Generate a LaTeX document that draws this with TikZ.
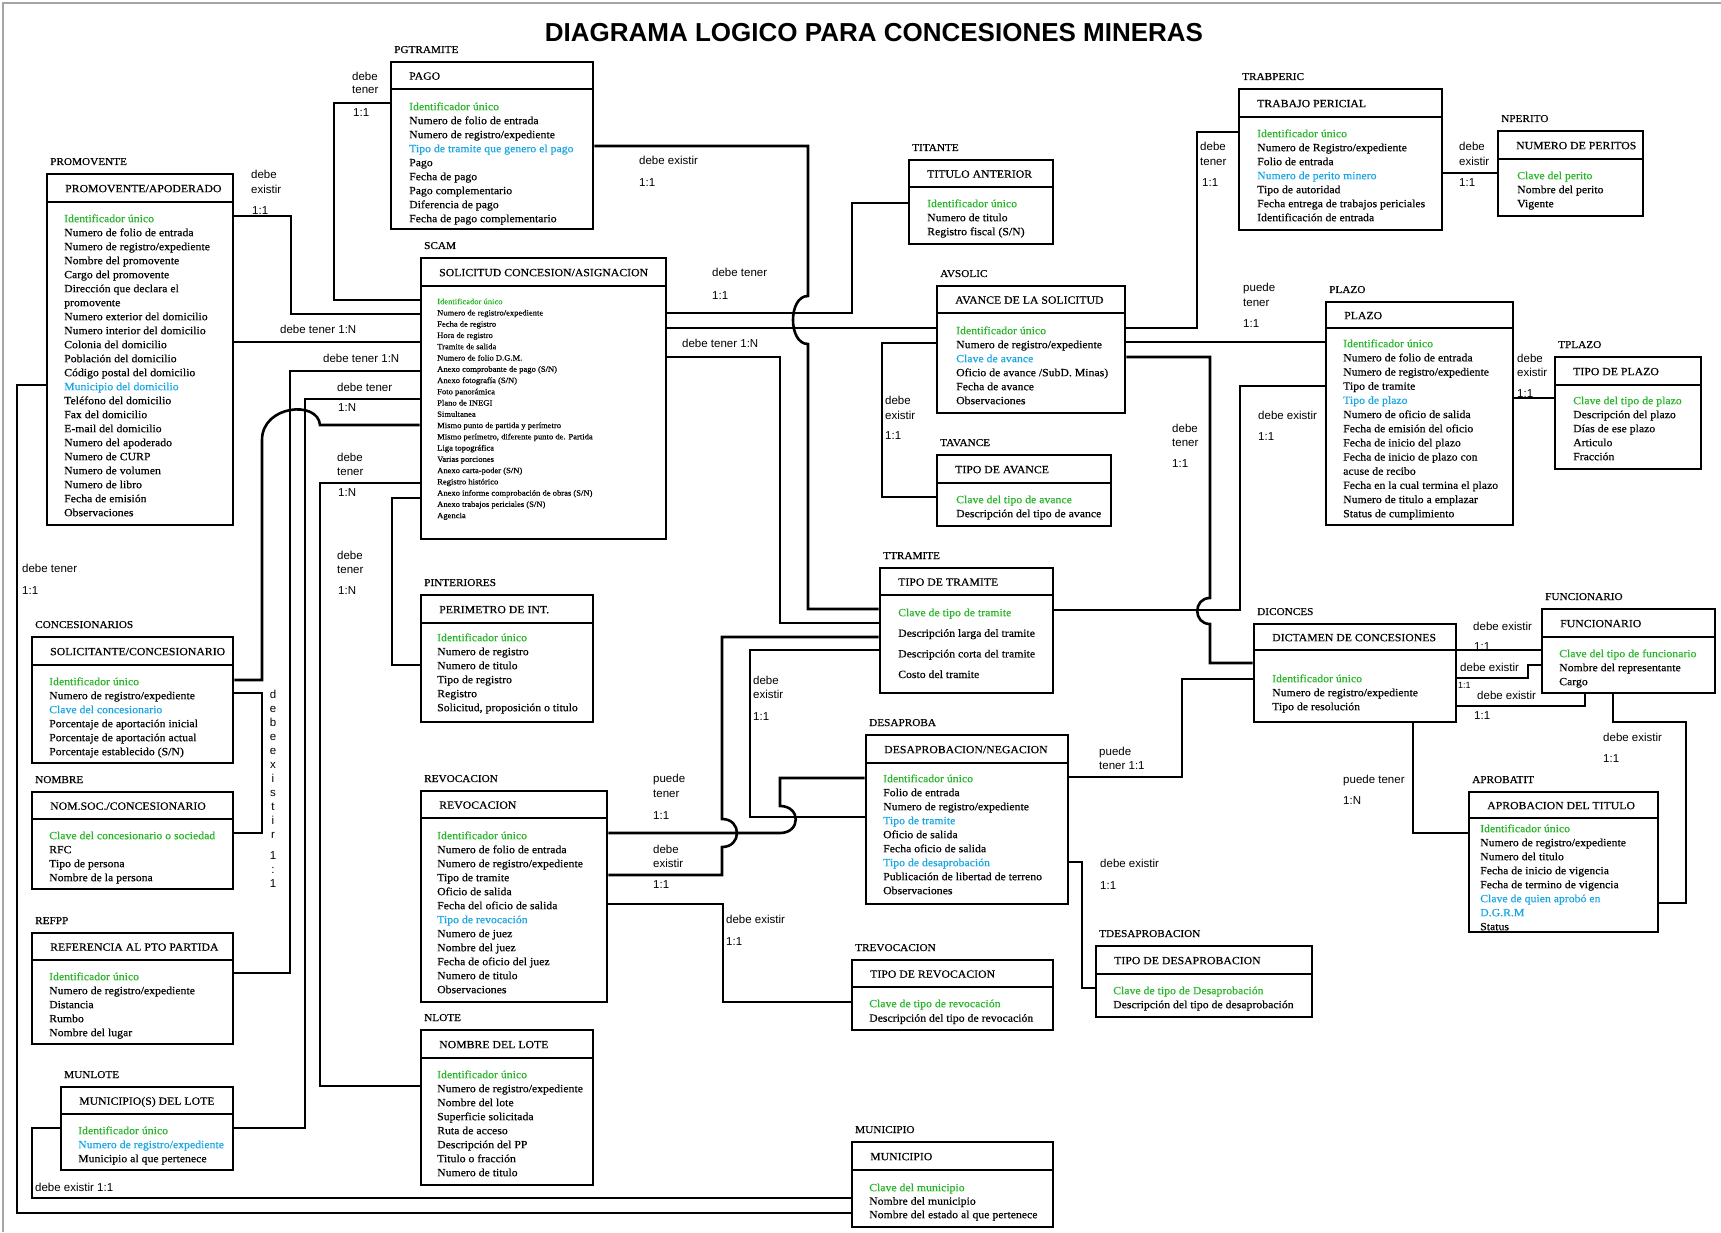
\documentclass[tikz,border=0pt]{standalone}
\usepackage{fontspec}
\setmainfont{Liberation Serif}[FakeStretch=1.07,FakeBold=0.5]
\newfontfamily\lsans{Liberation Sans}
\usetikzlibrary{fit}
\definecolor{idgreen}{RGB}{40,180,40}
\definecolor{fkblue}{RGB}{25,165,225}
\newcommand\gk[1]{\textcolor{idgreen}{#1}}
\newcommand\fk[1]{\textcolor{fkblue}{#1}}
\newcommand\fl{\rule{0pt}{10pt}}

\tikzset{
  ebox/.style={draw, line width=2.6pt, inner sep=0pt, rectangle},
  hline/.style={line width=2.6pt},
  conn/.style={line width=2.6pt, line join=miter},
  htext/.style={font=\fontsize{11}{14}\selectfont, inner sep=0pt, anchor=base west},
  elabel/.style={font=\fontsize{10.5}{13}\selectfont, inner sep=0pt, anchor=base west},
  ctext/.style={font=\fontsize{11}{14}\selectfont, inner sep=0pt, anchor=north west, align=left},
  lbl/.style={font=\lsans\fontsize{11.5}{14}\selectfont, inner sep=0pt, anchor=base west},
}

% entity: name, x1, y1, x2, y2, header-line y, table name, title
\newcommand\ent[8]{%
  \node[ebox, fit={(#2,#3) (#4,#5)}] (#1) {};
  \draw[hline] (#2,#6) -- (#4,#6);
  \node[htext] (#1-h) at ({#2+18},{(#3+#6)/2+4.2}) {#8};
  \node[elabel] (#1-l) at ({#2+3},{#3-9}) {#7};
}

\begin{document}
\begin{tikzpicture}[x=1pt,y=-1pt]
\useasboundingbox (0,0) rectangle (1721,1233);
\draw[gray!70, line width=1.2pt] (3,1232) -- (3,3) -- (1721,3);

\node[font=\lsans\bfseries\fontsize{26}{30}\selectfont, inner sep=0pt, anchor=base] (title) at (874,42) {DIAGRAMA LOGICO PARA CONCESIONES MINERAS};

% ---------- entities ----------
\ent{pago}{391}{62}{593}{229}{89}{PGTRAMITE}{PAGO}
\ent{prom}{47}{174}{233}{525}{202}{PROMOVENTE}{PROMOVENTE/APODERADO}
\ent{scam}{421}{258}{666}{539}{286}{SCAM}{SOLICITUD CONCESION/ASIGNACION}
\ent{titante}{909}{160}{1053}{244}{187}{TITANTE}{TITULO ANTERIOR}
\ent{avsolic}{937}{286}{1125}{413}{313}{AVSOLIC}{AVANCE DE LA SOLICITUD}
\ent{tavance}{937}{455}{1111}{526}{483}{TAVANCE}{TIPO DE AVANCE}
\ent{trabperic}{1239}{89}{1442}{230}{117}{TRABPERIC}{TRABAJO PERICIAL}
\ent{nperito}{1498}{131}{1643}{216}{159}{NPERITO}{NUMERO DE PERITOS}
\ent{plazo}{1326}{302}{1513}{525}{328}{PLAZO}{PLAZO}
\ent{tplazo}{1555}{357}{1701}{469}{385}{TPLAZO}{TIPO DE PLAZO}
\ent{solic}{32}{637}{233}{763}{665}{CONCESIONARIOS}{SOLICITANTE/CONCESIONARIO}
\ent{nomsoc}{32}{792}{233}{889}{819}{NOMBRE}{NOM.SOC./CONCESIONARIO}
\ent{refpp}{32}{933}{233}{1044}{960}{REFPP}{REFERENCIA AL PTO PARTIDA}
\ent{munlote}{61}{1087}{233}{1170}{1114}{MUNLOTE}{MUNICIPIO(S) DEL LOTE}
\ent{pint}{421}{595}{593}{722}{623}{PINTERIORES}{PERIMETRO DE INT.}
\ent{revoc}{421}{791}{607}{1002}{818}{REVOCACION}{REVOCACION}
\ent{nlote}{421}{1030}{593}{1185}{1058}{NLOTE}{NOMBRE DEL LOTE}
\ent{ttramite}{880}{568}{1053}{693}{595}{TTRAMITE}{TIPO DE TRAMITE}
\ent{desap}{866}{735}{1068}{904}{763}{DESAPROBA}{DESAPROBACION/NEGACION}
\ent{tdesap}{1096}{946}{1312}{1017}{974}{TDESAPROBACION}{TIPO DE DESAPROBACION}
\ent{trevoc}{852}{960}{1053}{1030}{987}{TREVOCACION}{TIPO DE REVOCACION}
\ent{munic}{852}{1142}{1053}{1227}{1170}{MUNICIPIO}{MUNICIPIO}
\ent{dict}{1254}{624}{1456}{722}{650}{DICONCES}{DICTAMEN DE CONCESIONES}
\ent{func}{1542}{609}{1715}{693}{637}{FUNCIONARIO}{FUNCIONARIO}
\ent{aprob}{1469}{792}{1658}{932}{818}{APROBATIT}{APROBACION DEL TITULO}

% ---------- attributes ----------
\node[ctext] (pago-c) at (409,100) {\fl\gk{Identificador único}\\Numero de folio de entrada\\Numero de registro/expediente\\\fk{Tipo de tramite que genero el pago}\\Pago\\Fecha de pago\\Pago complementario\\Diferencia de pago\\Fecha de pago complementario};
\node[ctext] (prom-c) at (64,212) {\fl\gk{Identificador único}\\Numero de folio de entrada\\Numero de registro/expediente\\Nombre del promovente\\Cargo del promovente\\Dirección que declara el\\promovente\\Numero exterior del domicilio\\Numero interior del domicilio\\Colonia del domicilio\\Población del domicilio\\Código postal del domicilio\\\fk{Municipio del domicilio}\\Teléfono del domicilio\\Fax del domicilio\\E-mail del domicilio\\Numero del apoderado\\Numero de CURP\\Numero de volumen\\Numero de libro\\Fecha de emisión\\Observaciones};
\node[ctext, font=\fontsize{8}{11.26}\selectfont] (scam-c) at (437,294) {\fl\gk{Identificador único}\\Numero de registro/expediente\\Fecha de registro\\Hora de registro\\Tramite de salida\\Numero de folio D.G.M.\\Anexo comprobante de pago (S/N)\\Anexo fotografía (S/N)\\Foto panorámica\\Plano de INEGI\\Simultanea\\Mismo punto de partida y perímetro\\Mismo perímetro, diferente punto de. Partida\\Liga topográfica\\Varias porciones\\Anexo carta-poder (S/N)\\Registro histórico\\Anexo informe comprobación de obras (S/N)\\Anexo trabajos periciales (S/N)\\Agencia};
\node[ctext] (titante-c) at (927,197) {\fl\gk{Identificador único}\\Numero de titulo\\Registro fiscal (S/N)};
\node[ctext] (avsolic-c) at (956,324) {\fl\gk{Identificador único}\\Numero de registro/expediente\\\fk{Clave de avance}\\Oficio de avance /SubD. Minas)\\Fecha de avance\\Observaciones};
\node[ctext] (tavance-c) at (956,493) {\fl\gk{Clave del tipo de avance}\\Descripción del tipo de avance};
\node[ctext] (trabperic-c) at (1257,127) {\fl\gk{Identificador único}\\Numero de Registro/expediente\\Folio de entrada\\\fk{Numero de perito minero}\\Tipo de autoridad\\Fecha entrega de trabajos periciales\\Identificación de entrada};
\node[ctext] (nperito-c) at (1517,169) {\fl\gk{Clave del perito}\\Nombre del perito\\Vigente};
\node[ctext, font=\fontsize{11}{14.17}\selectfont] (plazo-c) at (1343,337) {\fl\gk{Identificador único}\\Numero de folio de entrada\\Numero de registro/expediente\\Tipo de tramite\\\fk{Tipo de plazo}\\Numero de oficio de salida\\Fecha de emisión del oficio\\Fecha de inicio del plazo\\Fecha de inicio de plazo con\\acuse de recibo\\Fecha en la cual termina el plazo\\Numero de titulo a emplazar\\Status de cumplimiento};
\node[ctext] (tplazo-c) at (1573,394) {\fl\gk{Clave del tipo de plazo}\\Descripción del plazo\\Días de ese plazo\\Articulo\\Fracción};
\node[ctext] (solic-c) at (49,675) {\fl\gk{Identificador único}\\Numero de registro/expediente\\\fk{Clave del concesionario}\\Porcentaje de aportación inicial\\Porcentaje de aportación actual\\Porcentaje establecido (S/N)};
\node[ctext] (nomsoc-c) at (49,829) {\fl\gk{Clave del concesionario o sociedad}\\RFC\\Tipo de persona\\Nombre de la persona};
\node[ctext] (refpp-c) at (49,970) {\fl\gk{Identificador único}\\Numero de registro/expediente\\Distancia\\Rumbo\\Nombre del lugar};
\node[ctext] (munlote-c) at (78,1124) {\fl\gk{Identificador único}\\\fk{Numero de registro/expediente}\\Municipio al que pertenece};
\node[ctext] (pint-c) at (437,631) {\fl\gk{Identificador único}\\Numero de registro\\Numero de titulo\\Tipo de registro\\Registro\\Solicitud, proposición o titulo};
\node[ctext] (revoc-c) at (437,829) {\fl\gk{Identificador único}\\Numero de folio de entrada\\Numero de registro/expediente\\Tipo de tramite\\Oficio de salida\\Fecha del oficio de salida\\\fk{Tipo de revocación}\\Numero de juez\\Nombre del juez\\Fecha de oficio del juez\\Numero de titulo\\Observaciones};
\node[ctext] (nlote-c) at (437,1068) {\fl\gk{Identificador único}\\Numero de registro/expediente\\Nombre del lote\\Superficie solicitada\\Ruta de acceso\\Descripción del PP\\Titulo o fracción\\Numero de titulo};
\node[ctext, font=\fontsize{11}{20.6}\selectfont] (ttramite-c) at (898,606) {\fl\gk{Clave de tipo de tramite}\\Descripción larga del tramite\\Descripción corta del tramite\\Costo del tramite};
\node[ctext] (desap-c) at (883,772) {\fl\gk{Identificador único}\\Folio de entrada\\Numero de registro/expediente\\\fk{Tipo de tramite}\\Oficio de salida\\Fecha oficio de salida\\\fk{Tipo de desaprobación}\\Publicación de libertad de terreno\\Observaciones};
\node[ctext] (tdesap-c) at (1113,984) {\fl\gk{Clave de tipo de Desaprobación}\\Descripción del tipo de desaprobación};
\node[ctext, font=\fontsize{11}{14.5}\selectfont] (trevoc-c) at (869,997) {\fl\gk{Clave de tipo de revocación}\\Descripción del tipo de revocación};
\node[ctext, font=\fontsize{11}{13.5}\selectfont] (munic-c) at (869,1181) {\fl\gk{Clave del municipio}\\Nombre del municipio\\Nombre del estado al que pertenece};
\node[ctext] (dict-c) at (1272,672) {\fl\gk{Identificador único}\\Numero de registro/expediente\\Tipo de resolución};
\node[ctext] (func-c) at (1559,647) {\fl\gk{Clave del tipo de funcionario}\\Nombre del representante\\Cargo};
\node[ctext] (aprob-c) at (1480,822) {\fl\gk{Identificador único}\\Numero de registro/expediente\\Numero del titulo\\Fecha de inicio de vigencia\\Fecha de termino de vigencia\\\fk{Clave de quien aprobó en}\\\fk{D.G.R.M}\\Status};

% ---------- relationships ----------
\draw[conn] (pago.west |- 0,103) -- (334,103) -- (334,300) -- (scam.west |- 0,300);
\draw[conn] (prom.east |- 0,216) -- (291,216) -- (291,314) -- (scam.west |- 0,314);
\draw[conn] (prom.east |- 0,342) -- (scam.west |- 0,342);
\draw[conn] (refpp.east |- 0,973) -- (290,973) -- (290,371) -- (scam.west |- 0,371);
\draw[conn] (munlote.east |- 0,1128) -- (305,1128) -- (305,399) -- (scam.west |- 0,399);
\draw[conn] (solic.east |- 0,680) -- (262,680) -- (262,440) .. controls (262,405) and (318,400) .. (320,425) -- (scam.west |- 0,425);
\draw[conn] (nlote.west |- 0,1086) -- (320,1086) -- (320,483) -- (scam.west |- 0,483);
\draw[conn] (pint.west |- 0,665) -- (392,665) -- (392,498) -- (scam.west |- 0,498);
\draw[conn] (solic.east |- 0,693) -- (262,693) -- (262,833) -- (nomsoc.east |- 0,833);
\draw[conn] (prom.west |- 0,385) -- (17,385) -- (17,1213) -- (munic.west |- 0,1213);
\draw[conn] (munlote.west |- 0,1128) -- (32,1128) -- (32,1198) -- (munic.west |- 0,1198);
\draw[conn] (pago.east |- 0,146) -- (808,146) -- (808,296) .. controls (788,296) and (788,344) .. (808,344) -- (808,609) -- (ttramite.west |- 0,609);
\draw[conn] (scam.east |- 0,313) -- (852,313) -- (852,203) -- (titante.west |- 0,203);
\draw[conn] (scam.east |- 0,328) -- (avsolic.west |- 0,328);
\draw[conn] (scam.east |- 0,357) -- (780,357) -- (780,623) -- (ttramite.west |- 0,623);
\draw[conn] (avsolic.east |- 0,328) -- (1197,328) -- (1197,132) -- (trabperic.west |- 0,132);
\draw[conn] (avsolic.east |- 0,342) -- (plazo.west |- 0,342);
\draw[conn] (avsolic.east |- 0,357) -- (1210,357) -- (1210,598) .. controls (1193,598) and (1193,624) .. (1210,624) -- (1210,663) -- (dict.west |- 0,663);
\draw[conn] (plazo.west |- 0,386) -- (1240,386) -- (1240,610) -- (ttramite.east |- 0,610);
\draw[conn] (plazo.east |- 0,398) -- (tplazo.west |- 0,398);
\draw[conn] (trabperic.east |- 0,173) -- (nperito.west |- 0,173);
\draw[conn] (avsolic.west |- 0,343) -- (882,343) -- (882,497) -- (tavance.west |- 0,497);
\draw[conn] (desap.west |- 0,817) -- (750,817) -- (750,650) -- (ttramite.west |- 0,650);
\draw[conn] (revoc.east |- 0,875) -- (722,875) -- (722,847) .. controls (742,847) and (742,819) .. (722,819) -- (722,637) -- (ttramite.west |- 0,637);
\draw[conn] (desap.west |- 0,778) -- (780,778) -- (780,806) .. controls (801,806) and (801,833) .. (780,833) -- (revoc.east |- 0,833);
\draw[conn] (revoc.east |- 0,904) -- (723,904) -- (723,1002) -- (trevoc.west |- 0,1002);
\draw[conn] (desap.east |- 0,777) -- (1182,777) -- (1182,679) -- (dict.west |- 0,679);
\draw[conn] (desap.east |- 0,862) -- (1082,862) -- (1082,988) -- (tdesap.west |- 0,988);
\draw[conn] (dict.east |- 0,650) -- (func.west |- 0,650);
\draw[conn] (dict.east |- 0,678) -- (1528,678) -- (1528,665) -- (func.west |- 0,665);
\draw[conn] (dict.east |- 0,706) -- (1585,706) -- (func.south -| 1585,0);
\draw[conn] (func.south -| 1613,0) -- (1613,722) -- (1686,722) -- (1686,903) -- (aprob.east |- 0,903);
\draw[conn] (dict.south -| 1413,0) -- (1413,833) -- (aprob.west |- 0,833);

% ---------- relationship labels ----------
\node[lbl] (l1a) at (352,81) {debe};
\node[lbl] (l1b) at (352,94) {tener};
\node[lbl] (l1c) at (353,117) {1:1};
\node[lbl] (l2a) at (251,179) {debe};
\node[lbl] (l2b) at (251,194) {existir};
\node[lbl] (l2c) at (252,215) {1:1};
\node[lbl] (l3) at (280,334) {debe tener 1:N};
\node[lbl] (l4) at (323,362) {debe tener 1:N};
\node[lbl] (l5a) at (337,391) {debe tener};
\node[lbl] (l5b) at (338,411) {1:N};
\node[lbl] (l7a) at (337,461) {debe};
\node[lbl] (l7b) at (337,475) {tener};
\node[lbl] (l7c) at (338,496) {1:N};
\node[lbl] (l8a) at (337,559) {debe};
\node[lbl] (l8b) at (337,573) {tener};
\node[lbl] (l8c) at (338,594) {1:N};
\node[lbl, anchor=north, align=center] (l9) at (273,690) {d\\e\\b\\e\\e\\x\\i\\s\\t\\i\\r\\[7pt]1\\:\\1};
\node[lbl] (l10a) at (22,572) {debe tener};
\node[lbl] (l10b) at (22,594) {1:1};
\node[lbl] (l11) at (35,1191) {debe existir 1:1};
\node[lbl] (l12a) at (639,165) {debe existir};
\node[lbl] (l12b) at (639,187) {1:1};
\node[lbl] (l13a) at (712,277) {debe tener};
\node[lbl] (l13b) at (712,299) {1:1};
\node[lbl] (l15) at (682,347) {debe tener 1:N};
\node[lbl] (l16a) at (1200,151) {debe};
\node[lbl] (l16b) at (1200,166) {tener};
\node[lbl] (l16c) at (1202,187) {1:1};
\node[lbl] (l17a) at (1243,292) {puede};
\node[lbl] (l17b) at (1243,306) {tener};
\node[lbl] (l17c) at (1243,327) {1:1};
\node[lbl] (l18a) at (1172,432) {debe};
\node[lbl] (l18b) at (1172,446) {tener};
\node[lbl] (l18c) at (1172,467) {1:1};
\node[lbl] (l19a) at (1258,419) {debe existir};
\node[lbl] (l19b) at (1258,440) {1:1};
\node[lbl] (l20a) at (1517,362) {debe};
\node[lbl] (l20b) at (1517,376) {existir};
\node[lbl] (l20c) at (1517,397) {1:1};
\node[lbl] (l21a) at (1459,151) {debe};
\node[lbl] (l21b) at (1459,166) {existir};
\node[lbl] (l21c) at (1459,187) {1:1};
\node[lbl] (l22a) at (885,404) {debe};
\node[lbl] (l22b) at (885,419) {existir};
\node[lbl] (l22c) at (885,439) {1:1};
\node[lbl] (l23a) at (753,684) {debe};
\node[lbl] (l23b) at (753,698) {existir};
\node[lbl] (l23c) at (753,720) {1:1};
\node[lbl] (l24a) at (653,853) {debe};
\node[lbl] (l24b) at (653,867) {existir};
\node[lbl] (l24c) at (653,888) {1:1};
\node[lbl] (l25a) at (653,782) {puede};
\node[lbl] (l25b) at (653,797) {tener};
\node[lbl] (l25c) at (653,819) {1:1};
\node[lbl] (l26a) at (726,923) {debe existir};
\node[lbl] (l26b) at (726,945) {1:1};
\node[lbl] (l27a) at (1099,755) {puede};
\node[lbl] (l27b) at (1099,769) {tener 1:1};
\node[lbl] (l28a) at (1100,867) {debe existir};
\node[lbl] (l28b) at (1100,889) {1:1};
\node[lbl] (l29a) at (1473,630) {debe existir};
\node[lbl] (l29b) at (1474,650) {1:1};
\node[lbl] (l30a) at (1460,671) {debe existir};
\node[lbl, font=\lsans\fontsize{9}{11}\selectfont] (l30b) at (1458,688) {1:1};
\node[lbl] (l31a) at (1477,699) {debe existir};
\node[lbl] (l31b) at (1474,719) {1:1};
\node[lbl] (l32a) at (1603,741) {debe existir};
\node[lbl] (l32b) at (1603,762) {1:1};
\node[lbl] (l33a) at (1343,783) {puede tener};
\node[lbl] (l33b) at (1343,804) {1:N};
\end{tikzpicture}
\end{document}
